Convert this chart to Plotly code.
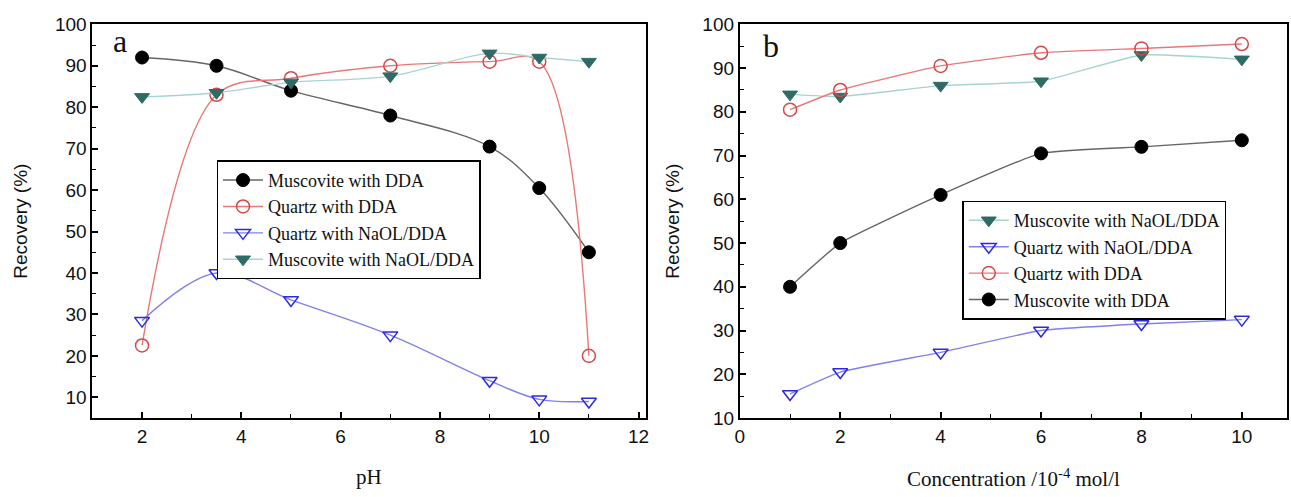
import plotly.graph_objects as go

# Panel a: recovery vs pH
ph = [2, 3.5, 5, 7, 9, 10, 11]
a_musc_dda = [92, 90, 84, 78, 70.5, 60.5, 45]
a_qtz_dda = [22.5, 83, 87, 90, 91, 91, 20]
a_qtz_naol = [28.5, 40, 33.5, 25, 14, 9.5, 9]
a_musc_naol = [82.5, 83.5, 86, 87.5, 93, 92, 91]

# Panel b: recovery vs concentration
conc = [1, 2, 4, 6, 8, 10]
b_musc_naol = [84, 83.5, 86, 87, 93, 92]
b_qtz_naol = [15.5, 20.5, 25, 30, 31.5, 32.5]
b_qtz_dda = [80.5, 85, 90.5, 93.5, 94.5, 95.5]
b_musc_dda = [40, 50, 61, 70.5, 72, 73.5]

names = {
    "md": "Muscovite with DDA",
    "qd": "Quartz with DDA",
    "qn": "Quartz with NaOL/DDA",
    "mn": "Muscovite with NaOL/DDA",
}
styles = {
    "md": dict(line=dict(color="#666666", width=1.4),
               marker=dict(symbol="circle", size=13, color="black", line=dict(color="black", width=1))),
    "qd": dict(line=dict(color="#e87878", width=1.4),
               marker=dict(symbol="circle-open", size=13, color="#d84848", line=dict(width=1.5))),
    "qn": dict(line=dict(color="#8080f0", width=1.4),
               marker=dict(symbol="triangle-down-open", size=13, color="#2a2ae0", line=dict(width=1.5))),
    "mn": dict(line=dict(color="#a8d4d0", width=1.4),
               marker=dict(symbol="triangle-down", size=13, color="#2e6b66", line=dict(color="#2e6b66", width=1))),
}

fig = go.Figure()

for key, ys in [("md", a_musc_dda), ("qd", a_qtz_dda), ("qn", a_qtz_naol), ("mn", a_musc_naol)]:
    fig.add_trace(go.Scatter(x=ph, y=ys, name=names[key], mode="lines+markers",
                             line_shape="spline", xaxis="x", yaxis="y", legend="legend",
                             **styles[key]))
    fig.data[-1].line.smoothing = 1.0

for key, ys in [("mn", b_musc_naol), ("qn", b_qtz_naol), ("qd", b_qtz_dda), ("md", b_musc_dda)]:
    fig.add_trace(go.Scatter(x=conc, y=ys, name=names[key], mode="lines+markers",
                             line_shape="spline", xaxis="x2", yaxis="y2", legend="legend2",
                             **styles[key]))
    fig.data[-1].line.smoothing = 0.4

W, H = 1291, 497
tickfont = dict(family="Liberation Sans, Arial", size=19, color="#111")
axis_common = dict(showline=True, linecolor="black", linewidth=2, mirror=True,
                   ticks="inside", ticklen=6, tickwidth=1.5, tickcolor="black",
                   showgrid=False, zeroline=False, tickfont=tickfont)
minor = dict(ticks="inside", ticklen=4, tickwidth=1.2, tickcolor="black", showgrid=False)

ybot = (H - 426) / H
ytop = (H - 15) / H
serif = "Liberation Serif, Times New Roman"
legfont = dict(family=serif, size=18, color="#111")

fig.update_layout(
    width=W, height=H,
    margin=dict(l=0, r=0, t=0, b=0),
    paper_bgcolor="white", plot_bgcolor="white",
    xaxis=dict(domain=[88 / W, 645 / W], range=[1, 12.14], tickvals=[2, 4, 6, 8, 10, 12],
               minor=dict(dtick=1, tick0=0, **minor),
               title=dict(text="pH", font=dict(family=serif, size=21, color="#111"), standoff=24),
               anchor="y", **axis_common),
    yaxis=dict(domain=[ybot, ytop], range=[5, 100], tickvals=list(range(10, 101, 10)),
               minor=dict(dtick=5, tick0=0, **minor),
               title=dict(text="Recovery (%)", font=dict(family="Liberation Sans, Arial", size=19, color="#111"),
                          standoff=22),
               anchor="x", **axis_common),
    xaxis2=dict(domain=[740 / W, 1.0], range=[0, 10.9], tickvals=[0, 2, 4, 6, 8, 10],
                minor=dict(dtick=1, tick0=0, **minor),
                title=dict(text="Concentration /10<sup>-4</sup> mol/l",
                           font=dict(family=serif, size=21, color="#111"), standoff=26),
                anchor="y2", **axis_common),
    yaxis2=dict(domain=[ybot, ytop], range=[10, 100], tickvals=list(range(10, 101, 10)),
                minor=dict(dtick=5, tick0=0, **minor),
                title=dict(text="Recovery (%)", font=dict(family="Liberation Sans, Arial", size=19, color="#111"),
                           standoff=18),
                anchor="x2", **axis_common),
    legend=dict(x=213 / W, y=(H - 157) / H, xanchor="left", yanchor="top",
                bordercolor="black", borderwidth=1.5, bgcolor="white",
                font=legfont, tracegroupgap=0, itemwidth=40),
    legend2=dict(x=964 / W, y=(H - 199) / H, xanchor="left", yanchor="top",
                 bordercolor="black", borderwidth=1.5, bgcolor="white",
                 font=legfont, tracegroupgap=0, itemwidth=40),
    annotations=[
        dict(text="a", x=1.55, y=96, xref="x", yref="y", showarrow=False,
             font=dict(family=serif, size=32, color="#111")),
        dict(text="b", x=0.62, y=95, xref="x2", yref="y2", showarrow=False,
             font=dict(family=serif, size=32, color="#111")),
    ],
)

fig.write_html("out.html")
